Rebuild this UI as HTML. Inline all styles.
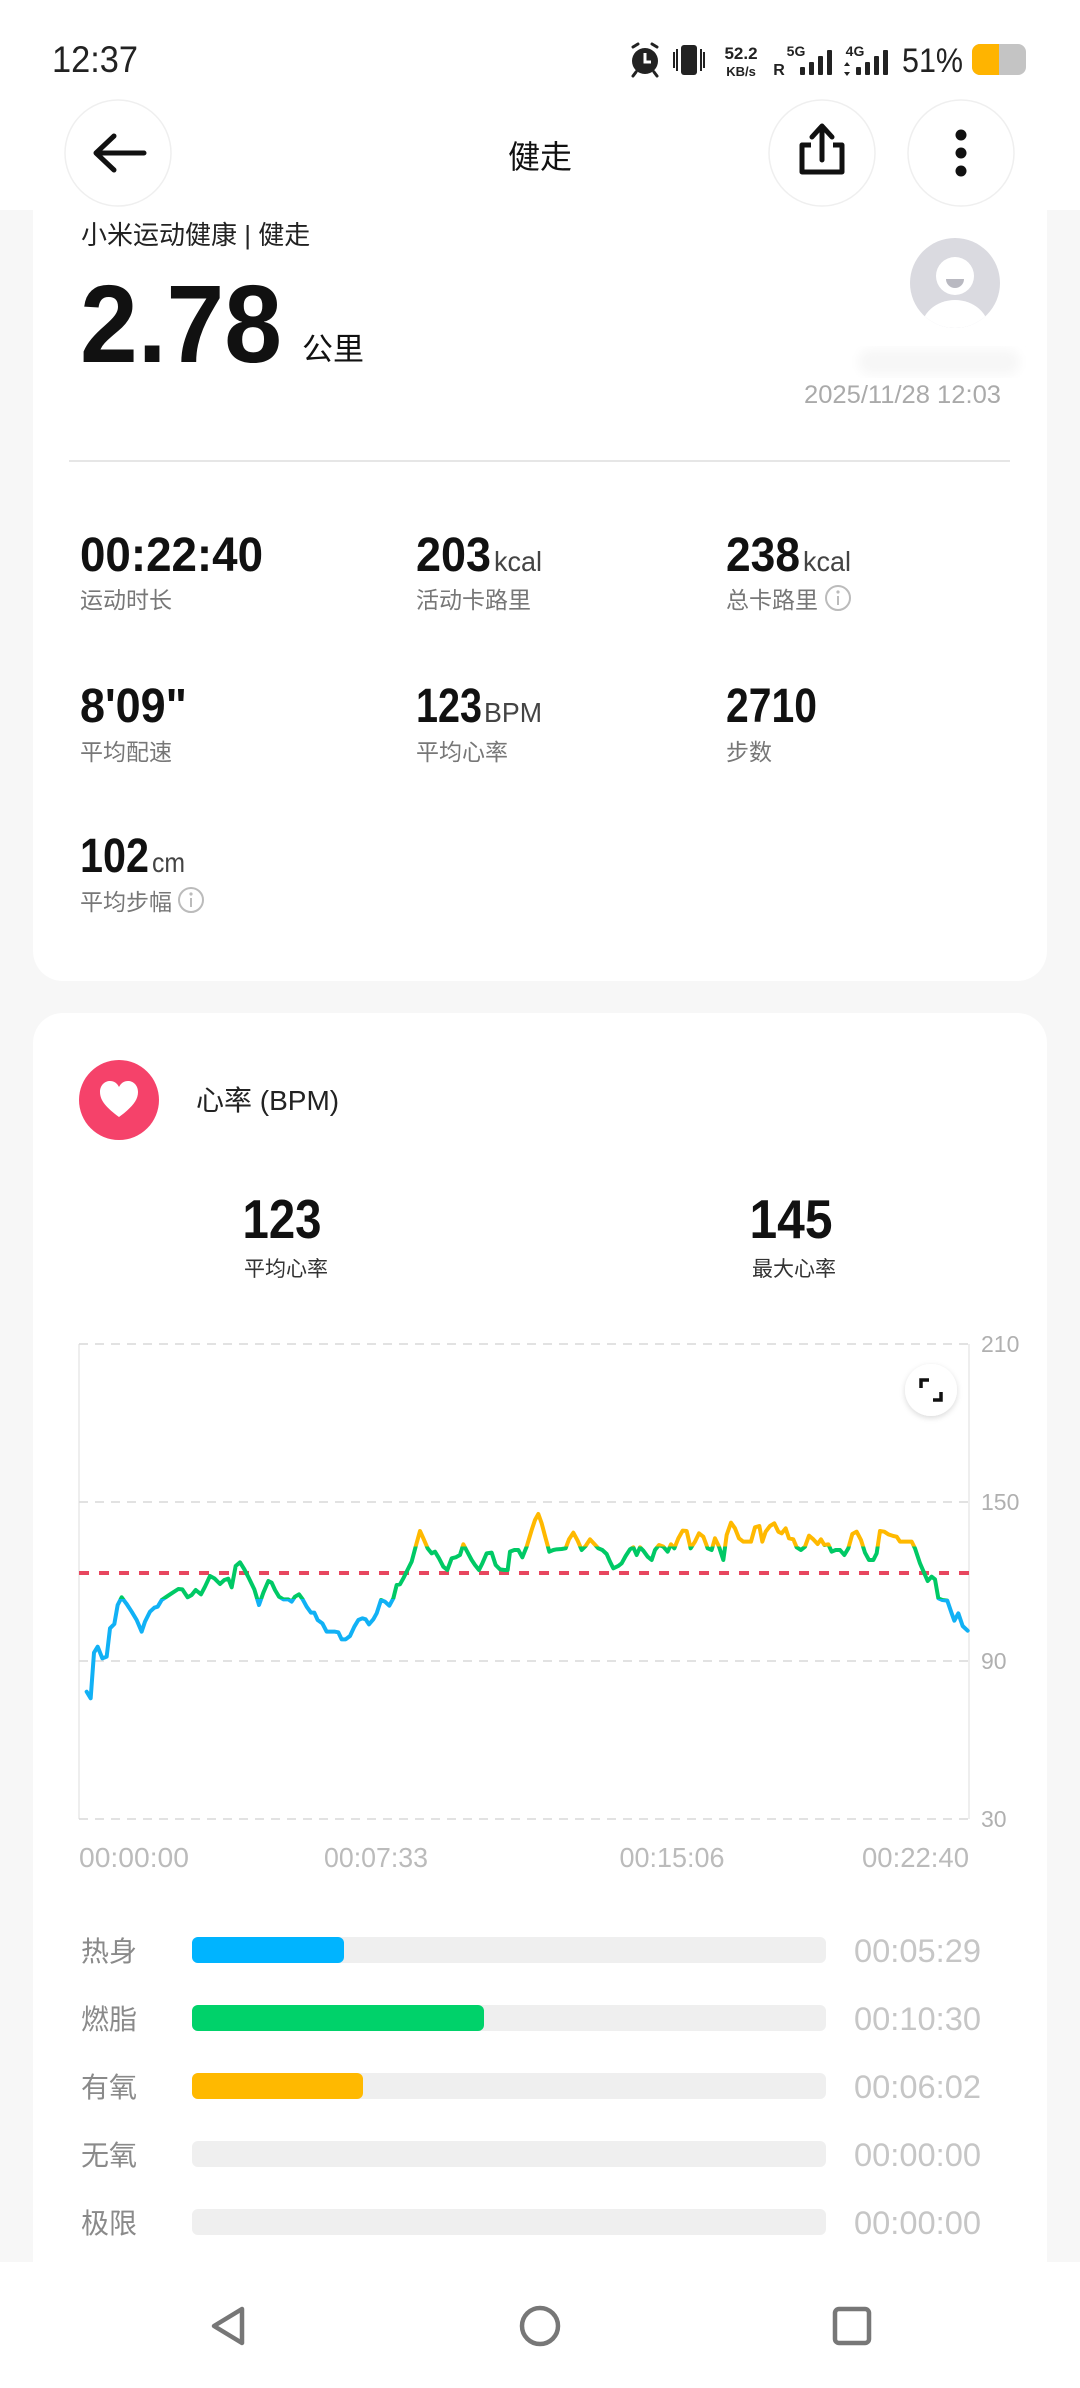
<!DOCTYPE html>
<html><head><meta charset="utf-8">
<style>
html,body{margin:0;padding:0;background:#f7f7f7;}
body{width:1080px;height:2388px;overflow:hidden;}
svg{display:block;}
text{font-family:"Liberation Sans","Noto Sans CJK SC",sans-serif;}
</style></head>
<body>
<svg width="1080" height="2388" viewBox="0 0 1080 2388" xmlns="http://www.w3.org/2000/svg">
<defs>
  <linearGradient id="hr" gradientUnits="userSpaceOnUse" x1="0" y1="0" x2="0" y2="700">
    <stop offset="0" stop-color="#ffb900"/>
    <stop offset="0.2857" stop-color="#ffb900"/>
    <stop offset="0.2857" stop-color="#00c965"/>
    <stop offset="0.51" stop-color="#00c965"/>
    <stop offset="0.51" stop-color="#11b1f5"/>
    <stop offset="1" stop-color="#11b1f5"/>
  </linearGradient>
  <clipPath id="av"><circle cx="955" cy="283" r="45"/></clipPath>
  <clipPath id="bat"><rect x="972" y="44" width="54" height="31" rx="8"/></clipPath>
  <filter id="sh" x="-50%" y="-50%" width="200%" height="200%">
    <feDropShadow dx="0" dy="2" stdDeviation="3" flood-color="#000" flood-opacity="0.15"/>
  </filter>
  <filter id="blur"><feGaussianBlur stdDeviation="5"/></filter>
</defs>

<rect x="0" y="0" width="1080" height="2388" fill="#f7f7f7"/>

<rect x="33" y="120" width="1014" height="861" rx="30" fill="#ffffff"/>
<rect x="33" y="1013" width="1014" height="1330" rx="30" fill="#ffffff"/>

<rect x="0" y="0" width="1080" height="210" fill="#ffffff"/>

<!-- status bar -->
<text x="52" y="72" font-size="37" fill="#222" textLength="86" lengthAdjust="spacingAndGlyphs">12:37</text>
<g fill="#222">
  <circle cx="645" cy="61" r="13"/>
  <path d="M633 47 L638 44 M657 47 L652 44" stroke="#222" stroke-width="3" stroke-linecap="round"/>
  <path d="M636 72 L633 76 M654 72 L657 76" stroke="#222" stroke-width="3" stroke-linecap="round"/>
</g>
<path d="M645 53 V62 H651" stroke="#fff" stroke-width="3" fill="none"/>
<rect x="681" y="45" width="16" height="30" rx="3" fill="#222"/>
<path d="M674 52 V68 M677 49 V71 M701 49 V71 M704 52 V68" stroke="#222" stroke-width="2"/>
<text x="741" y="59" font-size="17" font-weight="bold" fill="#222" text-anchor="middle">52.2</text>
<text x="741" y="76" font-size="13" font-weight="bold" fill="#222" text-anchor="middle">KB/s</text>
<text x="796" y="56" font-size="14" font-weight="bold" fill="#222" text-anchor="middle">5G</text>
<text x="779" y="75" font-size="16" font-weight="bold" fill="#222" text-anchor="middle">R</text>
<g fill="#222">
  <rect x="800" y="67" width="5" height="8" rx="1"/>
  <rect x="809" y="62" width="5" height="13" rx="1"/>
  <rect x="818" y="56" width="5" height="19" rx="1"/>
  <rect x="827" y="50" width="5" height="25" rx="1"/>
</g>
<text x="855" y="56" font-size="14" font-weight="bold" fill="#222" text-anchor="middle">4G</text>
<path d="M847 62 L850 66 H844 Z M847 76 L850 72 H844 Z" fill="#222"/>
<g fill="#222">
  <rect x="856" y="67" width="5" height="8" rx="1"/>
  <rect x="865" y="62" width="5" height="13" rx="1"/>
  <rect x="874" y="56" width="5" height="19" rx="1"/>
  <rect x="883" y="50" width="5" height="25" rx="1"/>
</g>
<text x="902" y="72" font-size="34" fill="#222" textLength="61" lengthAdjust="spacingAndGlyphs">51%</text>
<g clip-path="url(#bat)">
  <rect x="972" y="44" width="54" height="31" fill="#c4c4c4"/>
  <rect x="972" y="44" width="27" height="31" fill="#ffb400"/>
</g>

<!-- header buttons -->
<circle cx="118" cy="153" r="53" fill="#fff" stroke="#efefef" stroke-width="1.5"/>
<circle cx="822" cy="153" r="53" fill="#fff" stroke="#efefef" stroke-width="1.5"/>
<circle cx="961" cy="153" r="53" fill="#fff" stroke="#efefef" stroke-width="1.5"/>
<path d="M144 153 H96 M114 136 L96 153 L114 170" stroke="#111" stroke-width="5" fill="none" stroke-linecap="round" stroke-linejoin="round"/>
<text x="540" y="168" font-size="32" fill="#111" text-anchor="middle">健走</text>
<path d="M811 145 H802 V172 H842 V145 H833" stroke="#111" stroke-width="5" fill="none" stroke-linejoin="round"/>
<path d="M822 160 V127 M812 137 L822 126 L832 137" stroke="#111" stroke-width="5" fill="none" stroke-linecap="round" stroke-linejoin="round"/>
<circle cx="961" cy="135" r="5.5" fill="#111"/>
<circle cx="961" cy="153" r="5.5" fill="#111"/>
<circle cx="961" cy="171" r="5.5" fill="#111"/>

<!-- card 1 content -->
<text x="81" y="244" font-size="26" fill="#222">小米运动健康 | 健走</text>
<text x="80" y="362" font-size="110" font-weight="bold" fill="#111" textLength="202" lengthAdjust="spacingAndGlyphs">2.78</text>
<text x="302" y="360" font-size="31" fill="#111">公里</text>

<circle cx="955" cy="283" r="45" fill="#dadae0"/>
<g clip-path="url(#av)">
  <circle cx="955" cy="276" r="19" fill="#fff"/>
  <path d="M946 279 A9 9 0 0 0 964 279 Z" fill="#b9b9c1"/>
  <ellipse cx="955" cy="330" rx="34" ry="30" fill="#fff"/>
</g>
<rect x="858" y="349" width="162" height="26" rx="13" fill="#f7f7f7" filter="url(#blur)"/>
<text x="1001" y="403" font-size="25" fill="#aaaaaa" text-anchor="end" textLength="197" lengthAdjust="spacingAndGlyphs">2025/11/28 12:03</text>
<line x1="69" y1="461" x2="1010" y2="461" stroke="#e6e6e6" stroke-width="2"/>

<!-- stats -->
<g font-weight="bold" fill="#111" font-size="48">
  <text x="80" y="571" textLength="183" lengthAdjust="spacingAndGlyphs">00:22:40</text>
  <text x="416" y="571" textLength="75" lengthAdjust="spacingAndGlyphs">203</text>
  <text x="726" y="571" textLength="74" lengthAdjust="spacingAndGlyphs">238</text>
  <text x="80" y="722" textLength="107" lengthAdjust="spacingAndGlyphs">8'09"</text>
  <text x="416" y="722" textLength="66" lengthAdjust="spacingAndGlyphs">123</text>
  <text x="726" y="722" textLength="91" lengthAdjust="spacingAndGlyphs">2710</text>
  <text x="80" y="872" textLength="69" lengthAdjust="spacingAndGlyphs">102</text>
</g>
<g fill="#444" font-size="28">
  <text x="494" y="571" textLength="48" lengthAdjust="spacingAndGlyphs">kcal</text>
  <text x="803" y="571" textLength="48" lengthAdjust="spacingAndGlyphs">kcal</text>
  <text x="484" y="722" textLength="58" lengthAdjust="spacingAndGlyphs">BPM</text>
  <text x="152" y="872" textLength="33" lengthAdjust="spacingAndGlyphs">cm</text>
</g>
<g fill="#777" font-size="23">
  <text x="80" y="608">运动时长</text>
  <text x="416" y="608">活动卡路里</text>
  <text x="726" y="608">总卡路里</text>
  <text x="80" y="760">平均配速</text>
  <text x="416" y="760">平均心率</text>
  <text x="726" y="760">步数</text>
  <text x="80" y="910">平均步幅</text>
</g>
<g stroke="#bbb" stroke-width="2" fill="none">
  <circle cx="838" cy="598" r="12"/>
  <circle cx="191" cy="900" r="12"/>
</g>
<g fill="#bbb">
  <circle cx="838" cy="592" r="1.6"/><rect x="837" y="596" width="2" height="9"/>
  <circle cx="191" cy="894" r="1.6"/><rect x="190" y="898" width="2" height="9"/>
</g>

<!-- card 2 -->
<circle cx="119" cy="1100" r="40" fill="#f5426a"/>
<path d="M119 1117 C107 1108 100 1101 100 1092 C100 1085 105 1081 110 1081 C114 1081 117 1083 119 1087 C121 1083 124 1081 128 1081 C133 1081 138 1085 138 1092 C138 1101 131 1108 119 1117 Z" fill="#fff"/>
<text x="196" y="1110" font-size="28" fill="#222">心率 (BPM)</text>

<text x="282" y="1238" font-size="55" font-weight="bold" fill="#111" text-anchor="middle" textLength="79" lengthAdjust="spacingAndGlyphs">123</text>
<text x="286" y="1276" font-size="21" fill="#333" text-anchor="middle">平均心率</text>
<text x="791" y="1238" font-size="55" font-weight="bold" fill="#111" text-anchor="middle" textLength="83" lengthAdjust="spacingAndGlyphs">145</text>
<text x="794" y="1276" font-size="21" fill="#333" text-anchor="middle">最大心率</text>

<line x1="79" y1="1344" x2="79" y2="1819" stroke="#e8e8e8" stroke-width="1.5"/>
<line x1="969" y1="1344" x2="969" y2="1819" stroke="#e8e8e8" stroke-width="1.5"/>
<g stroke="#d9d9d9" stroke-width="1.5" stroke-dasharray="9 7">
  <line x1="79" y1="1344" x2="969" y2="1344"/>
  <line x1="79" y1="1502" x2="969" y2="1502"/>
  <line x1="79" y1="1661" x2="969" y2="1661"/>
  <line x1="79" y1="1819" x2="969" y2="1819"/>
</g>
<g fill="#b0b0b0" font-size="23">
  <text x="981" y="1352">210</text>
  <text x="981" y="1510">150</text>
  <text x="981" y="1669">90</text>
  <text x="981" y="1827">30</text>
</g>
<line x1="79" y1="1573" x2="969" y2="1573" stroke="#e8475f" stroke-width="4" stroke-dasharray="10 10"/>

<g transform="translate(75,1480) scale(0.33333)">
<polyline fill="none" stroke="url(#hr)" stroke-width="12" stroke-linejoin="round" stroke-linecap="round" points="35,635 47,655 57,518 68,500 82,535 95,530 105,445 118,432 128,375 140,352 155,372 170,395 185,420 200,455 210,425 225,395 238,383 248,380 260,360 272,352 290,340 310,327 322,328 338,352 350,345 362,330 378,343 390,320 405,288 418,295 435,312 448,300 460,296 470,322 482,258 495,247 508,268 522,295 538,328 552,375 565,338 580,303 590,308 600,330 612,350 625,358 640,358 650,365 660,350 672,343 683,358 695,380 708,398 718,398 728,420 742,430 755,455 768,455 780,455 790,457 800,478 812,478 825,468 838,440 850,420 862,415 872,418 882,433 895,418 905,400 918,360 930,365 943,377 955,355 965,315 975,313 985,295 995,275 1010,245 1022,200 1035,153 1045,175 1058,205 1070,220 1080,215 1092,235 1105,260 1117,270 1130,235 1142,232 1155,225 1165,193 1175,212 1190,240 1200,255 1212,270 1222,250 1235,220 1250,218 1262,255 1275,268 1288,270 1298,270 1305,215 1318,210 1330,210 1342,232 1355,200 1370,150 1380,120 1390,102 1400,130 1412,175 1423,215 1435,210 1445,208 1460,207 1472,205 1482,178 1495,158 1508,182 1520,210 1532,198 1545,178 1558,192 1570,205 1582,210 1595,222 1605,245 1615,265 1630,258 1640,250 1652,228 1665,208 1675,202 1685,225 1695,202 1705,212 1718,230 1730,240 1740,210 1752,195 1765,200 1778,215 1788,193 1798,205 1810,175 1823,152 1835,153 1847,205 1860,185 1872,160 1885,170 1898,205 1910,210 1920,175 1932,200 1945,240 1955,165 1968,128 1980,145 1992,175 2005,185 2018,185 2028,185 2040,142 2053,138 2062,185 2072,155 2085,138 2098,130 2110,155 2120,160 2132,145 2142,175 2155,178 2165,202 2178,210 2190,200 2202,167 2215,178 2228,192 2238,178 2248,195 2260,193 2270,215 2282,210 2295,210 2308,225 2320,205 2332,162 2345,155 2358,180 2370,218 2382,240 2395,240 2405,220 2415,153 2428,155 2440,163 2455,168 2465,170 2475,185 2490,185 2510,185 2520,205 2535,250 2548,280 2558,303 2570,290 2580,298 2590,355 2602,360 2617,362 2630,400 2638,422 2650,400 2663,438 2678,452"/>
</g>

<circle cx="931" cy="1390" r="26" fill="#fff" filter="url(#sh)"/>
<path d="M921 1388 V1380 H929 M941 1392 V1400 H933" stroke="#111" stroke-width="3.5" fill="none"/>

<g fill="#bbbbbb" font-size="28">
  <text x="79" y="1867" textLength="110" lengthAdjust="spacingAndGlyphs">00:00:00</text>
  <text x="376" y="1867" text-anchor="middle" textLength="104" lengthAdjust="spacingAndGlyphs">00:07:33</text>
  <text x="672" y="1867" text-anchor="middle" textLength="105" lengthAdjust="spacingAndGlyphs">00:15:06</text>
  <text x="969" y="1867" text-anchor="end" textLength="107" lengthAdjust="spacingAndGlyphs">00:22:40</text>
</g>

<g fill="#8a8a8a" font-size="28">
  <text x="81" y="1961">热身</text>
  <text x="81" y="2029">燃脂</text>
  <text x="81" y="2097">有氧</text>
  <text x="81" y="2165">无氧</text>
  <text x="81" y="2233">极限</text>
</g>
<g fill="#efefef">
  <rect x="192" y="1937" width="634" height="26" rx="6"/>
  <rect x="192" y="2005" width="634" height="26" rx="6"/>
  <rect x="192" y="2073" width="634" height="26" rx="6"/>
  <rect x="192" y="2141" width="634" height="26" rx="6"/>
  <rect x="192" y="2209" width="634" height="26" rx="6"/>
</g>
<rect x="192" y="1937" width="152" height="26" rx="6" fill="#00b4ff"/>
<rect x="192" y="2005" width="292" height="26" rx="6" fill="#00d26a"/>
<rect x="192" y="2073" width="171" height="26" rx="6" fill="#ffb900"/>
<g fill="#c6c6c6" font-size="32" text-anchor="end">
  <text x="981" y="1962" textLength="127" lengthAdjust="spacingAndGlyphs">00:05:29</text>
  <text x="981" y="2030" textLength="127" lengthAdjust="spacingAndGlyphs">00:10:30</text>
  <text x="981" y="2098" textLength="127" lengthAdjust="spacingAndGlyphs">00:06:02</text>
  <text x="981" y="2166" textLength="127" lengthAdjust="spacingAndGlyphs">00:00:00</text>
  <text x="981" y="2234" textLength="127" lengthAdjust="spacingAndGlyphs">00:00:00</text>
</g>

<rect x="0" y="2262" width="1080" height="126" fill="#ffffff"/>
<path d="M242 2309 L214 2326 L242 2343 Z" stroke="#777" stroke-width="4.5" fill="none" stroke-linejoin="round"/>
<circle cx="540" cy="2326" r="18" stroke="#777" stroke-width="4.5" fill="none"/>
<rect x="835" y="2309" width="34" height="34" rx="4" stroke="#777" stroke-width="4.5" fill="none"/>
</svg>
</body></html>
